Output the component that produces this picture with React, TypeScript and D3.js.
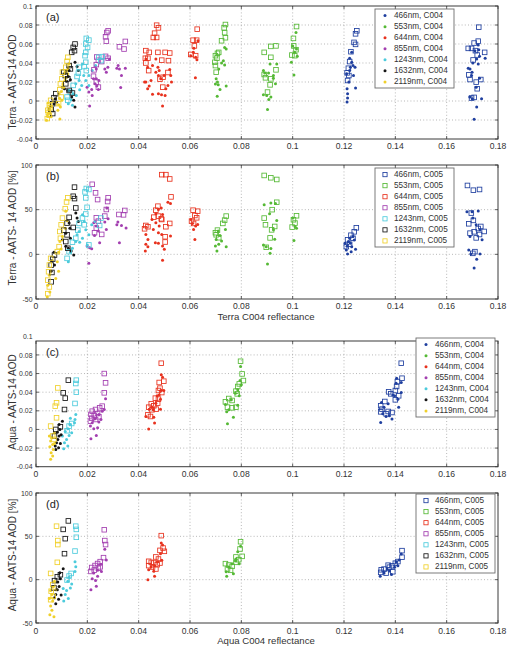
import React from "react";
import * as d3 from "d3";

type Pt = [number, number];

// Wavelength bands and their marker colours
const bands = ["466nm", "553nm", "644nm", "855nm", "1243nm", "1632nm", "2119nm"];
const bandColors = ["#1f3f9f", "#55b935", "#e8321e", "#a33fb0", "#4ccbdc", "#151515", "#f0d02a"];

// Axis ticks
const reflectanceTicks = [0, 0.02, 0.04, 0.06, 0.08, 0.1, 0.12, 0.14, 0.16, 0.18];
const aodTicks = [-0.04, -0.02, 0, 0.02, 0.04, 0.06, 0.08, 0.1];
const percentTicks = [-50, 0, 50, 100];

// Terra: MODIS-AATS AOD difference (C004 dots), one list per band
const terraAodC004: Pt[][] = [
  [[0.123,0.0408],[0.1225,0.0355],[0.1235,0.0373],[0.1243,0.0355],[0.1222,0.032],[0.121,0.0286],[0.1237,0.0268],[0.1219,0.0199],[0.1212,0.0129],[0.1214,0.0077],[0.1214,0.0031],[0.1212,-0.001],[0.1245,0.0136],[0.1222,0.045],[0.123,0.0512],
   [0.1684,0.0345],[0.1691,0.0338],[0.1699,0.0303],[0.1697,0.0268],[0.1723,0.0589],[0.1725,0.054],[0.171,0.053],[0.1717,0.0442],[0.1728,0.047],[0.175,0.045],[0.1723,0.039],[0.1728,0.024],[0.169,0.0042],[0.17,0.0024],[0.1736,0.0024],[0.1717,-0.0063],[0.1707,-0.0192],[0.1715,0.0146],[0.1702,0.04]],
  [[0.0735,0.0564],[0.0741,0.0547],[0.073,0.0425],[0.0723,0.04],[0.0712,0.0338],[0.0702,0.0233],[0.0707,0.0199],[0.071,0.017],[0.0717,0.0122],[0.0706,0.0049],[0.0741,0.0157],[0.0735,0.038],[0.0699,0.018],
   [0.0886,0.032],[0.0891,0.0296],[0.0912,0.039],[0.0938,0.039],[0.0906,0.0296],[0.0925,0.024],[0.0933,0.0181],[0.0886,0.0066],[0.0899,0.0059],[0.0915,0.0042],[0.0907,0.0017],[0.0902,-0.009],[0.0925,0.0268],
   [0.1013,0.0721],[0.1,0.058],[0.1008,0.0512],[0.1018,0.047],[0.0995,0.0408],[0.1005,0.0275],[0.1015,0.0547]],
  [[0.0428,0.0442],[0.0435,0.0355],[0.0454,0.0373],[0.0428,0.0199],[0.0435,0.0129],[0.0441,0.0157],[0.0448,0.0216],[0.0467,0.0442],[0.0475,0.0355],[0.0467,0.0303],[0.048,0.032],[0.0477,0.0268],[0.0486,0.0233],[0.0499,0.0268],[0.0506,0.0129],[0.0503,0.0059],[0.0493,-0.0052],[0.0489,0.0066],[0.0454,0.007],[0.0477,0.0077],[0.0521,0.0331],[0.0525,0.0268],[0.0528,0.0199],[0.0514,0.0164],[0.0423,0.0199],
   [0.0603,0.0477],[0.0613,0.0512],[0.0622,0.046],[0.0627,0.0435],[0.0631,0.0634],[0.0621,0.0244],[0.0615,0.0554]],
  [[0.0286,0.0442],[0.028,0.0355],[0.0268,0.0338],[0.032,0.0373],[0.0315,0.0345],[0.0325,0.0338],[0.0348,0.0345],[0.0333,0.0268],[0.0224,0.0233],[0.0235,0.0233],[0.0245,0.0216],[0.023,0.0181],[0.0237,0.0157],[0.0199,0.0146],[0.0217,0.0122],[0.0243,0.0122],[0.033,0.0143],[0.0219,0.0059],[0.0209,-0.0052],[0.0274,0.0303],[0.0235,0.0338],[0.0206,0.0094]],
  [[0.0181,0.039],[0.0168,0.0216],[0.0155,0.0181],[0.0178,0.0164],[0.0194,0.0216],[0.0206,0.0268],[0.0145,0.0077],[0.0137,0.0014],[0.0126,-0.0028],[0.0129,0.0111],[0.0186,0.0268],[0.0206,0.0164],[0.017,0.0118],[0.0157,0.0059],[0.0142,-0.0045],[0.0219,0.032],[0.0232,0.0373]],
  [[0.0152,0.0408],[0.016,0.0362],[0.0165,0.032],[0.0129,0.032],[0.0126,0.0258],[0.0119,0.0209],[0.0134,0.0223],[0.0111,0.0129],[0.0124,0.0111],[0.0139,0.0042],[0.0147,0.0007],[0.0075,0.0024],[0.008,-0.001],[0.007,-0.0028],[0.0152,-0.0063],[0.0103,0.0146]],
  [[0.0119,0.032],[0.0124,0.0286],[0.0114,0.0216],[0.0108,0.0146],[0.009,0.0077],[0.0101,0.0007],[0.0085,-0.0098],[0.0095,-0.0063],[0.0054,-0.008],[0.0049,-0.0132],[0.0041,-0.0202],[0.0059,-0.0167],[0.0129,0.039],[0.0093,-0.019],
   [0.0045,-0.016],[0.005,-0.01],[0.0055,-0.005],[0.0047,-0.002],[0.0125,0.035],[0.0118,0.025],[0.0105,0.018],[0.0098,0.01],[0.0092,0.003],[0.0088,-0.004],[0.0112,0.03]],
];

// Terra: AOD difference (C005 squares)
const terraAodC005: Pt[][] = [
  [[0.125,0.0739],[0.1245,0.0707],[0.1239,0.0617],[0.1245,0.0596],[0.1227,0.0519],[0.1222,0.0415],[0.1217,0.0345],[0.1212,0.0296],[0.1219,0.0268],[0.1214,0.0216],
   [0.1725,0.0777],[0.1707,0.061],[0.1723,0.063],[0.1684,0.0554],[0.1697,0.0554],[0.1748,0.0512],[0.1712,0.053],[0.1719,0.0484],[0.1703,0.0432],[0.1686,0.0275],[0.1691,0.0226],[0.1733,0.0226],[0.1715,0.0199],[0.1707,0.0038],[0.1697,0.0031],[0.1719,0.0129]],
  [[0.0738,0.0805],[0.0733,0.077],[0.0735,0.072],[0.0738,0.0666],[0.0723,0.0634],[0.0707,0.0502],[0.0699,0.0477],[0.0705,0.045],[0.0697,0.0408],[0.0699,0.0373],[0.0702,0.0303],[0.0712,0.0512],
   [0.0889,0.0512],[0.0915,0.0575],[0.0935,0.058],[0.0915,0.046],[0.0935,0.0328],[0.0889,0.0279],[0.0894,0.0244],[0.0915,0.0233],[0.0912,0.017],[0.0902,0.0094],
   [0.1015,0.0784],[0.1003,0.0659],[0.1004,0.058],[0.1013,0.054],[0.0997,0.0484],[0.1008,0.0477]],
  [[0.047,0.0798],[0.0477,0.077],[0.0462,0.0714],[0.0457,0.0669],[0.047,0.0669],[0.0428,0.053],[0.0441,0.0512],[0.0426,0.045],[0.0436,0.045],[0.0428,0.04],[0.0475,0.0512],[0.0503,0.0512],[0.049,0.043],[0.0521,0.0505],[0.0516,0.0425],[0.0514,0.03],[0.0483,0.023],[0.0495,0.025],[0.0494,0.0146],[0.0439,0.032],
   [0.0628,0.0756],[0.0612,0.064],[0.0626,0.064],[0.0617,0.058],[0.0603,0.049],[0.0622,0.0477]],
  [[0.0281,0.0739],[0.0276,0.0721],[0.0271,0.0676],[0.0274,0.063],[0.0348,0.0627],[0.0325,0.0571],[0.0343,0.0547],[0.0281,0.045],[0.0271,0.047],[0.0237,0.0463],[0.0243,0.0429],[0.0256,0.0415],[0.0235,0.0383],[0.0226,0.0328],[0.0224,0.0261],[0.0235,0.0199],[0.0243,0.0146]],
  [[0.0196,0.0659],[0.0206,0.0641],[0.0194,0.06],[0.0201,0.0564],[0.0194,0.0512],[0.0191,0.0477],[0.0194,0.0408],[0.0188,0.0362],[0.0196,0.032],[0.0168,0.0355],[0.0165,0.0293],[0.016,0.0258],[0.0245,0.046],[0.0253,0.0425],[0.0258,0.0467],[0.0145,0.0164],[0.0134,0.0094],[0.0121,0.0042],[0.0124,0.0007]],
  [[0.0152,0.06],[0.0145,0.0564],[0.0139,0.0512],[0.015,0.053],[0.0129,0.0373],[0.0134,0.0338],[0.0108,0.0303],[0.0114,0.0268],[0.0124,0.0233],[0.0116,0.0181],[0.0077,0.0077],[0.007,0.0035],[0.0065,-0.0028],[0.0059,-0.009],[0.0065,-0.0132],[0.0129,0.0111],[0.0142,0.0084]],
  [[0.0124,0.046],[0.0121,0.0418],[0.0116,0.0355],[0.0103,0.0303],[0.0101,0.0233],[0.0095,0.0181],[0.0093,0.0118],[0.0057,0.0007],[0.0052,-0.0045],[0.0046,-0.0098],[0.0052,-0.015],[0.0044,-0.0185],[0.0088,-0.0028],[0.0098,0.0042],[0.0048,-0.012],[0.0055,-0.007]],
];

// Terra: relative difference in percent (C004 dots)
const terraPctC004: Pt[][] = [
  [[0.1217,14.3],[0.1225,12.4],[0.1209,4.9],[0.1214,0.4],[0.1245,5.6],[0.123,8.6],[0.1204,12.4],[0.1222,18],[0.1235,20],[0.1212,9],[0.124,16],[0.1228,3],
   [0.1679,47.7],[0.1699,47.7],[0.1723,48.5],[0.1702,40.6],[0.1715,33.1],[0.173,27.4],[0.1691,19.9],[0.1686,4.9],[0.1694,0.4],[0.173,0.4],[0.1717,-5.6],[0.1707,-15.4],[0.1738,16.2]],
  [[0.071,26],[0.0717,21.2],[0.0702,16.7],[0.0699,9.3],[0.0705,3.7],[0.0738,27.9],[0.0741,8.6],[0.0723,14.9],[0.0712,11.2],
   [0.0889,55.6],[0.0915,57.5],[0.0933,56.8],[0.091,45.5],[0.0938,38],[0.0925,27.4],[0.093,16.9],[0.0886,10.5],[0.0897,8.6],[0.0915,6.4],[0.0912,1.1],[0.0902,-10.9],
   [0.1009,31.2],[0.1005,15.4],[0.1015,29.3],[0.1,40.6]],
  [[0.0514,58.4],[0.0524,56.9],[0.0488,52],[0.0477,50.2],[0.0467,45.4],[0.0493,44.6],[0.0452,39],[0.0467,35.3],[0.048,31.6],[0.0457,27.9],[0.0477,24.2],[0.049,22.3],[0.0428,22.3],[0.0436,16.7],[0.0428,11.2],[0.0436,8.6],[0.0465,13],[0.0477,12.3],[0.0493,9.3],[0.05,5.6],[0.0493,-6.7],[0.0524,20.4],[0.0426,3.7],
   [0.0609,34.6],[0.0622,31.6],[0.063,33.5],[0.0619,16.7],[0.0604,39],[0.0614,27.9]],
  [[0.0276,52],[0.0281,39.8],[0.0268,36.1],[0.0319,36.1],[0.0315,33.1],[0.0333,32.3],[0.0351,29.4],[0.0325,13],[0.0225,35.3],[0.0235,31.6],[0.0243,26],[0.0228,21.2],[0.0199,9.3],[0.0209,7.4],[0.0217,6.3],[0.0206,-10],[0.0274,27.9],[0.0248,13]],
  [[0.0181,44.4],[0.0188,36.8],[0.0168,25.6],[0.016,21.8],[0.0194,27.4],[0.0206,21.8],[0.0181,18],[0.0155,14.3],[0.0142,6.8],[0.0134,2.3],[0.0126,-8.3],[0.017,13.5],[0.02,10.5],[0.0217,33.1],[0.023,36.8]],
  [[0.0155,46.2],[0.016,40.6],[0.0165,36.8],[0.0129,35],[0.0132,29.3],[0.0116,23.7],[0.0134,18],[0.0116,9],[0.0126,6.8],[0.0137,3.8],[0.0147,-0.8],[0.007,2.3],[0.0062,-7.1],[0.0059,-18.8],[0.0103,16.2],[0.0072,-12]],
  [[0.0116,48.1],[0.0121,37.6],[0.0114,29.3],[0.0103,19.9],[0.0093,14.3],[0.0088,2.3],[0.0098,6],[0.0083,-8.3],[0.0088,-18.8],[0.0052,-23.3],[0.0046,-34.6],[0.0054,-42.1],[0.0044,-47.7],[0.0077,-27.1]],
];

// Terra: relative difference in percent (C005 squares)
const terraPctC005: Pt[][] = [
  [[0.1248,29.7],[0.124,25.2],[0.1227,21.4],[0.1214,16.2],[0.1222,11.3],[0.1209,8.6],[0.1235,18],
   [0.1681,77.1],[0.1704,71.8],[0.1728,72.6],[0.1696,46.2],[0.1704,38],[0.1686,34.2],[0.1723,28.9],[0.1707,25.2],[0.1691,23.7],[0.1746,25.6],[0.1728,22.2],[0.1715,18.4],[0.171,3],[0.1702,1.1],[0.1733,31.2]],
  [[0.0741,42.8],[0.0735,38.3],[0.0728,34.6],[0.0707,27.1],[0.0702,21.9],[0.0712,18.6],[0.0699,24.2],
   [0.0889,88.3],[0.0915,85.7],[0.0938,83.8],[0.0938,58.3],[0.092,50],[0.0889,40.6],[0.0894,33.1],[0.093,31.2],[0.0918,27.4],[0.0912,18.4],[0.0897,7.9],
   [0.1015,43.2],[0.1003,38.7],[0.1009,35],[0.0998,30.5]],
  [[0.049,89.2],[0.0506,89.2],[0.0521,84.4],[0.0526,64.3],[0.0475,53.9],[0.0467,49.4],[0.0477,42.8],[0.0459,41.6],[0.0488,39.8],[0.0428,32.3],[0.0436,30.9],[0.0423,28.6],[0.0506,30.9],[0.0521,34.6],[0.0503,19.7],[0.0503,13.8],[0.049,39],
   [0.0612,49.4],[0.063,48.3],[0.0619,43.5],[0.0606,37.2],[0.0614,34.6],[0.0626,40.9]],
  [[0.0219,78.4],[0.0232,68.8],[0.024,61.3],[0.0281,63.2],[0.0279,59.1],[0.0346,49.1],[0.0323,44.6],[0.0341,44.2],[0.0274,50.2],[0.0268,42.8],[0.0235,40.9],[0.0243,37.2],[0.0235,29.4],[0.0228,24.2],[0.0256,22.3]],
  [[0.0196,73.7],[0.0191,69.9],[0.0206,72.6],[0.0194,63.2],[0.0199,52.6],[0.0194,45.1],[0.0181,40.6],[0.0188,33.1],[0.0168,34.6],[0.0163,27.1],[0.0155,18],[0.0142,13.5],[0.0129,3],[0.0121,-4.5],[0.0253,40.6],[0.0248,32.3],[0.0206,10.5]],
  [[0.015,75.2],[0.0145,65],[0.015,62.4],[0.0155,51.9],[0.0129,41.4],[0.0121,35],[0.0145,30.1],[0.0108,27.1],[0.0121,21.8],[0.0116,14.3],[0.0072,-0.8],[0.0065,-5.3],[0.0059,-12],[0.0062,-20.3],[0.0059,-30.8],[0.0124,6.8]],
  [[0.0124,63.2],[0.0119,58.6],[0.0114,51.1],[0.0103,40.6],[0.0098,33.1],[0.0093,25.6],[0.0095,18],[0.009,8.6],[0.0057,-4.5],[0.0052,-12],[0.0049,-19.5],[0.0046,-28.9],[0.0052,-36.5],[0.0046,-44],[0.0083,3]],
];

// Aqua: AOD difference (C004 dots)
const aquaAodC004: Pt[][] = [
  [[0.1423,0.0504],[0.1405,0.055],[0.1403,0.0496],[0.1423,0.0396],[0.1397,0.0361],[0.141,0.0325],[0.139,0.0371],[0.1372,0.0275],[0.1346,0.0289],[0.1356,0.0239],[0.1351,0.0168],[0.1364,0.0139],[0.1387,0.0111],[0.1343,0.0075],[0.1413,0.0239],[0.1377,0.0146]],
  [[0.0797,0.0675],[0.0795,0.0525],[0.08,0.0479],[0.0786,0.0425],[0.0777,0.0389],[0.0792,0.0361],[0.0761,0.0318],[0.0738,0.0268],[0.0751,0.0211],[0.0743,0.0189],[0.0769,0.0132],[0.0746,0.0061],[0.0786,0.0261]],
  [[0.0488,0.0586],[0.0493,0.0561],[0.0498,0.0418],[0.0488,0.0418],[0.048,0.0371],[0.0472,0.0361],[0.0485,0.0325],[0.0467,0.0282],[0.0452,0.0239],[0.0441,0.0218],[0.0457,0.0211],[0.0485,0.0218],[0.0459,0.0132],[0.0462,0.0068],[0.0439,0.0004],[0.0428,0.0139]],
  [[0.0271,0.0329],[0.0258,0.0196],[0.0266,0.0214],[0.0245,0.0161],[0.023,0.0114],[0.0245,0.0079],[0.0219,0.0071],[0.0225,0.0007],[0.024,0.0018],[0.0235,-0.0064],[0.0214,-0.01],[0.0212,0.0036],[0.0253,0.0107]],
  [[0.0155,0.0161],[0.0152,0.0107],[0.015,0.0071],[0.0132,0.0054],[0.0124,0.0007],[0.0114,-0.0021],[0.0129,-0.0064],[0.0119,-0.0107],[0.0111,-0.0143],[0.0124,-0.0179],[0.0108,-0.0207],[0.0139,-0.0036],[0.0103,-0.0071],[0.0134,0.0121]],
  [[0.0103,0.0089],[0.009,0.0054],[0.0083,-0.0029],[0.009,-0.0071],[0.0085,-0.0107],[0.008,-0.0143],[0.0095,-0.015],[0.0088,-0.0196],[0.0077,-0.0214],[0.0075,-0.0179],[0.0093,0],[0.0098,-0.0057]],
  [[0.0062,-0.0089],[0.0057,-0.0125],[0.0065,-0.0161],[0.0054,-0.0186],[0.0067,-0.0214],[0.0059,-0.025],[0.0065,-0.0286],[0.0057,-0.0321],[0.0072,-0.0036],[0.0052,-0.0071],[0.0072,-0.015]],
];

// Aqua: AOD difference (C005 squares)
const aquaAodC005: Pt[][] = [
  [[0.1423,0.0711],[0.1426,0.055],[0.1408,0.0514],[0.1405,0.0461],[0.14,0.0418],[0.1413,0.0361],[0.14,0.0318],[0.1374,0.0404],[0.1382,0.0382],[0.1359,0.03],[0.1343,0.0254],[0.1348,0.0218],[0.1343,0.0189],[0.1372,0.0193],[0.1387,0.0182],[0.1364,0.0168]],
  [[0.0797,0.0732],[0.0803,0.0596],[0.0808,0.0525],[0.0792,0.0489],[0.0786,0.0461],[0.0779,0.0411],[0.0784,0.0382],[0.0764,0.0311],[0.0751,0.0332],[0.0738,0.0296],[0.0746,0.0239],[0.0764,0.0232],[0.0779,0.0239]],
  [[0.0488,0.0711],[0.0498,0.0518],[0.048,0.0504],[0.0483,0.0443],[0.0477,0.0418],[0.049,0.0396],[0.0465,0.0336],[0.0477,0.0325],[0.0474,0.0282],[0.0449,0.0275],[0.0459,0.0254],[0.0439,0.0239],[0.0468,0.0218],[0.0436,0.0157],[0.0446,0.0139],[0.0452,0.0211]],
  [[0.0266,0.06],[0.0271,0.05],[0.0266,0.0393],[0.0258,0.025],[0.0248,0.0232],[0.0232,0.0214],[0.0219,0.0196],[0.0214,0.0161],[0.0227,0.015],[0.024,0.0171],[0.0217,0.0121],[0.0232,0.0107],[0.0212,0.0089],[0.0245,0.0136]],
  [[0.0157,0.0529],[0.0155,0.0493],[0.0157,0.04],[0.0152,0.0279],[0.0129,0.0036],[0.0121,-0.0014],[0.0139,0.0064]],
  [[0.0126,0.0529],[0.0106,0.0393],[0.0114,0.0336],[0.0111,0.0214],[0.0095,0.0029],[0.0077,0],[0.0072,-0.0071]],
  [[0.0085,0.0446],[0.008,0.0286],[0.0075,0.025],[0.0057,0.0036],[0.0065,-0.0071],[0.007,-0.0107],[0.008,0.0125]],
];

// Aqua: relative difference in percent (C004 dots)
const aquaPctC004: Pt[][] = [
  [[0.1423,29.7],[0.1415,22.8],[0.1403,20.5],[0.1397,14.4],[0.1377,9.9],[0.1356,7.6],[0.1341,3.8],[0.1368,12.2],[0.1385,6.1],[0.141,16]],
  [[0.0797,38.5],[0.0786,32.3],[0.0779,23.8],[0.0777,21.5],[0.0764,18.5],[0.0751,14.6],[0.0741,9.2],[0.0743,3.8],[0.0769,6.9],[0.0792,18.5]],
  [[0.0488,42.3],[0.0493,40],[0.0485,30],[0.0474,20.8],[0.0462,16.2],[0.0449,14.6],[0.0439,11.5],[0.0459,9.6],[0.0462,3.8],[0.0436,0],[0.049,22.3]],
  [[0.0268,35.2],[0.0274,22.7],[0.0253,17.8],[0.024,11],[0.0225,7.6],[0.024,3.8],[0.0219,1.1],[0.0232,-1.1],[0.0235,-7.6],[0.0214,-11.7],[0.0255,9.5]],
  [[0.0152,20.8],[0.0155,14.8],[0.0152,9.5],[0.0129,2.7],[0.0124,-1.9],[0.0134,-9.5],[0.0119,-12.5],[0.0114,-17],[0.0126,-21.6],[0.0108,-24.6],[0.0139,-4.9],[0.0106,-10.2]],
  [[0.0106,12.5],[0.0093,8],[0.0085,-2.7],[0.009,-8],[0.0083,-11.7],[0.0077,-17],[0.0098,-17.8],[0.0088,-22.7],[0.0077,-27.7],[0.0072,-20.8],[0.0095,1.1]],
  [[0.0067,-8],[0.0057,-12.5],[0.0062,-17],[0.0052,-21.6],[0.0065,-24.6],[0.0057,-30.3],[0.0062,-35.2],[0.0054,-40.5],[0.007,-42.8],[0.0072,-1.9],[0.0077,-11.7]],
];

// Aqua: relative difference in percent (C005 squares)
const aquaPctC005: Pt[][] = [
  [[0.1426,33.5],[0.1426,25.9],[0.141,20.9],[0.14,19],[0.1387,16],[0.1372,16.7],[0.1356,12.2],[0.1345,11.4],[0.1343,8.4],[0.1377,14.4],[0.139,9.1],[0.1364,7.6]],
  [[0.0797,43.8],[0.0795,35.4],[0.0803,26.9],[0.079,23.1],[0.0779,20],[0.0764,15.4],[0.0751,16.9],[0.0738,18.5],[0.0746,12.3],[0.0779,26.2],[0.0758,10.8]],
  [[0.0488,50.8],[0.0495,36.5],[0.0483,33.8],[0.05,32.7],[0.0467,26.2],[0.0477,23.8],[0.0439,21.2],[0.0449,20],[0.0459,19.2],[0.0472,17.3],[0.0439,16.2],[0.0454,14.6],[0.0467,12.3],[0.0483,19.2]],
  [[0.0266,57.6],[0.0268,45.1],[0.0271,40.5],[0.0263,25.4],[0.025,20.8],[0.024,18.6],[0.023,16.3],[0.0217,14],[0.0227,11],[0.0243,13.3],[0.0214,9.5],[0.025,14.8]],
  [[0.0155,61.7],[0.0157,58],[0.0157,48.9],[0.0152,33],[0.0129,4.2],[0.0121,-0.4],[0.0137,7.2]],
  [[0.0126,67.8],[0.0106,58],[0.0114,47.3],[0.0111,30],[0.0095,5.7],[0.0072,-1.1],[0.007,-9.5],[0.0083,3.4]],
  [[0.008,61.7],[0.0085,45.1],[0.0085,40.5],[0.0083,20],[0.0057,7.2],[0.0065,-5.7],[0.0059,-13.3],[0.0067,-19.3],[0.0057,-23.1]],
];

const WIDTH = 510;
const HEIGHT = 646;
const FONT = "'Liberation Sans', Arial, sans-serif";
const PLOT_LEFT = 36;
const PLOT_RIGHT = 498;
const DOT_R = 1.5;
const SQ = 4.6;

type PanelSpec = {
  tag: string;
  rangeBottom: number;
  rangeTop: number;
  frameTop: number;
  yDomain: [number, number];
  yTicks: number[];
  dots: Pt[][];
  squares: Pt[][];
  yTitle: string;
  yTitleCenter: number;
  xTitle?: string;
  xTitleY?: number;
  xTickY: number;
  legendX: number;
  legendY: number;
  legendVersion: "C004" | "C005";
};

const panels: PanelSpec[] = [
  { tag: "(a)", rangeBottom: 139, rangeTop: 6, frameTop: 6, yDomain: [-0.04, 0.1], yTicks: aodTicks,
    dots: terraAodC004, squares: terraAodC005, yTitle: "Terra -  AATS-14 AOD", yTitleCenter: 82,
    xTickY: 146, legendX: 375, legendY: 9, legendVersion: "C004" },
  { tag: "(b)", rangeBottom: 299, rangeTop: 165, frameTop: 165, yDomain: [-50, 100], yTicks: percentTicks,
    dots: terraPctC004, squares: terraPctC005, yTitle: "Terra -  AATS- 14 AOD [%]", yTitleCenter: 228,
    xTitle: "Terra C004 reflectance", xTitleY: 316.5, xTickY: 306, legendX: 375, legendY: 168, legendVersion: "C005" },
  { tag: "(c)", rangeBottom: 466.7, rangeTop: 336.3, frameTop: 341, yDomain: [-0.04, 0.1], yTicks: aodTicks,
    dots: aquaAodC004, squares: aquaAodC005, yTitle: "Aqua -  AATS-14 AOD", yTitleCenter: 402,
    xTickY: 474, legendX: 416, legendY: 338, legendVersion: "C004" },
  { tag: "(d)", rangeBottom: 623, rangeTop: 493, frameTop: 493, yDomain: [-50, 100], yTicks: percentTicks,
    dots: aquaPctC004, squares: aquaPctC005, yTitle: "Aqua -  AATS-14 AOD [%]", yTitleCenter: 555,
    xTitle: "Aqua C004 reflectance", xTitleY: 640, xTickY: 630.5, legendX: 416, legendY: 494, legendVersion: "C005" },
];

const fmt = (v: number) => String(+v.toFixed(2));

function Panel({ spec }: { spec: PanelSpec }) {
  const x = d3.scaleLinear().domain([0, 0.18]).range([PLOT_LEFT, PLOT_RIGHT]);
  const y = d3.scaleLinear().domain(spec.yDomain).range([spec.rangeBottom, spec.rangeTop]);
  const top = spec.frameTop;
  const bottom = spec.rangeBottom;
  const gridColor = "#9a9a9a";
  const frameColor = "#3a3a3a";
  const legendW = 79;
  const rowH = 11.05;
  const legendH = 79;
  const yLabelRight = PLOT_LEFT - 3.5;

  return (
    <g>
      {/* grid */}
      {reflectanceTicks.filter((t) => t > 0 && t < 0.18).map((t) => (
        <line key={"gx" + t} x1={x(t)} x2={x(t)} y1={top} y2={bottom}
          stroke={gridColor} strokeWidth={0.7} strokeDasharray="1,2.2" />
      ))}
      {spec.yTicks.filter((t) => y(t) > top + 0.5 && y(t) < bottom - 0.5).map((t) => (
        <line key={"gy" + t} x1={PLOT_LEFT} x2={PLOT_RIGHT} y1={y(t)} y2={y(t)}
          stroke={gridColor} strokeWidth={0.7} strokeDasharray="1,2.2" />
      ))}
      {/* inner tick marks */}
      {reflectanceTicks.map((t) => (
        <g key={"tx" + t}>
          <line x1={x(t)} x2={x(t)} y1={bottom} y2={bottom - 3} stroke={frameColor} strokeWidth={0.8} />
          <line x1={x(t)} x2={x(t)} y1={top} y2={top + 3} stroke={frameColor} strokeWidth={0.8} />
        </g>
      ))}
      {spec.yTicks.filter((t) => y(t) >= top - 0.5).map((t) => (
        <g key={"ty" + t}>
          <line x1={PLOT_LEFT} x2={PLOT_LEFT + 3} y1={y(t)} y2={y(t)} stroke={frameColor} strokeWidth={0.8} />
          <line x1={PLOT_RIGHT} x2={PLOT_RIGHT - 3} y1={y(t)} y2={y(t)} stroke={frameColor} strokeWidth={0.8} />
        </g>
      ))}
      {/* C004 dots */}
      {spec.dots.map((pts, bi) => (
        <g key={"d" + bi} fill={bandColors[bi]}>
          {pts.map((p, i) => (
            <circle key={i} cx={x(p[0])} cy={y(p[1])} r={DOT_R} />
          ))}
        </g>
      ))}
      {/* C005 squares */}
      {spec.squares.map((pts, bi) => (
        <g key={"s" + bi} fill="none" stroke={bandColors[bi]} strokeWidth={0.85}>
          {pts.map((p, i) => (
            <rect key={i} x={x(p[0]) - SQ / 2} y={y(p[1]) - SQ / 2} width={SQ} height={SQ} />
          ))}
        </g>
      ))}
      {/* frame */}
      <rect x={PLOT_LEFT} y={top} width={PLOT_RIGHT - PLOT_LEFT} height={bottom - top}
        fill="none" stroke={frameColor} strokeWidth={1} />
      {/* tick labels */}
      {reflectanceTicks.map((t) => (
        <text key={"lx" + t} x={x(t)} y={spec.xTickY} textAnchor="middle" dominantBaseline="central"
          fontSize={8.6} fill="#333">{fmt(t)}</text>
      ))}
      {spec.yTicks.map((t) => (
        <text key={"ly" + t} transform={`translate(${yLabelRight},${y(t)}) scale(0.86,1)`}
          textAnchor="end" dominantBaseline="central" fontSize={8} fill="#333">{fmt(t)}</text>
      ))}
      {/* axis titles */}
      <text transform={`translate(12.5,${spec.yTitleCenter}) rotate(-90)`} textAnchor="middle"
        dominantBaseline="central" fontSize={10} fill="#333">{spec.yTitle}</text>
      {spec.xTitle && (
        <text x={266} y={spec.xTitleY} textAnchor="middle" dominantBaseline="central" fontSize={9.6} fill="#333">
          {spec.xTitle}
        </text>
      )}
      {/* panel tag */}
      <text x={PLOT_LEFT + 10} y={top + 11} dominantBaseline="central" fontSize={11} fill="#222">{spec.tag}</text>
      {/* legend */}
      <g>
        <rect x={spec.legendX} y={spec.legendY} width={legendW} height={legendH}
          fill="#fff" stroke="#6e6e6e" strokeWidth={0.9} />
        {bands.map((b, i) => {
          const cy = spec.legendY + 6.6 + i * rowH;
          const mx = spec.legendX + 10;
          return (
            <g key={b}>
              {spec.legendVersion === "C004" ? (
                <circle cx={mx} cy={cy} r={1.5} fill={bandColors[i]} />
              ) : (
                <rect x={mx - 2.1} y={cy - 2.1} width={4.2} height={4.2} fill="none"
                  stroke={bandColors[i]} strokeWidth={0.85} />
              )}
              <text x={spec.legendX + 19} y={cy} dominantBaseline="central" fontSize={8.2} fill="#333">
                {`${b}, ${spec.legendVersion}`}
              </text>
            </g>
          );
        })}
      </g>
    </g>
  );
}

export default function App() {
  return (
    <svg width={WIDTH} height={HEIGHT} viewBox={`0 0 ${WIDTH} ${HEIGHT}`}
      style={{ position: "absolute", left: 0, top: 0, background: "#fff", fontFamily: FONT }}>
      <rect x={0} y={0} width={WIDTH} height={HEIGHT} fill="#fff" />
      {panels.map((p) => (
        <Panel key={p.tag} spec={p} />
      ))}
    </svg>
  );
}
